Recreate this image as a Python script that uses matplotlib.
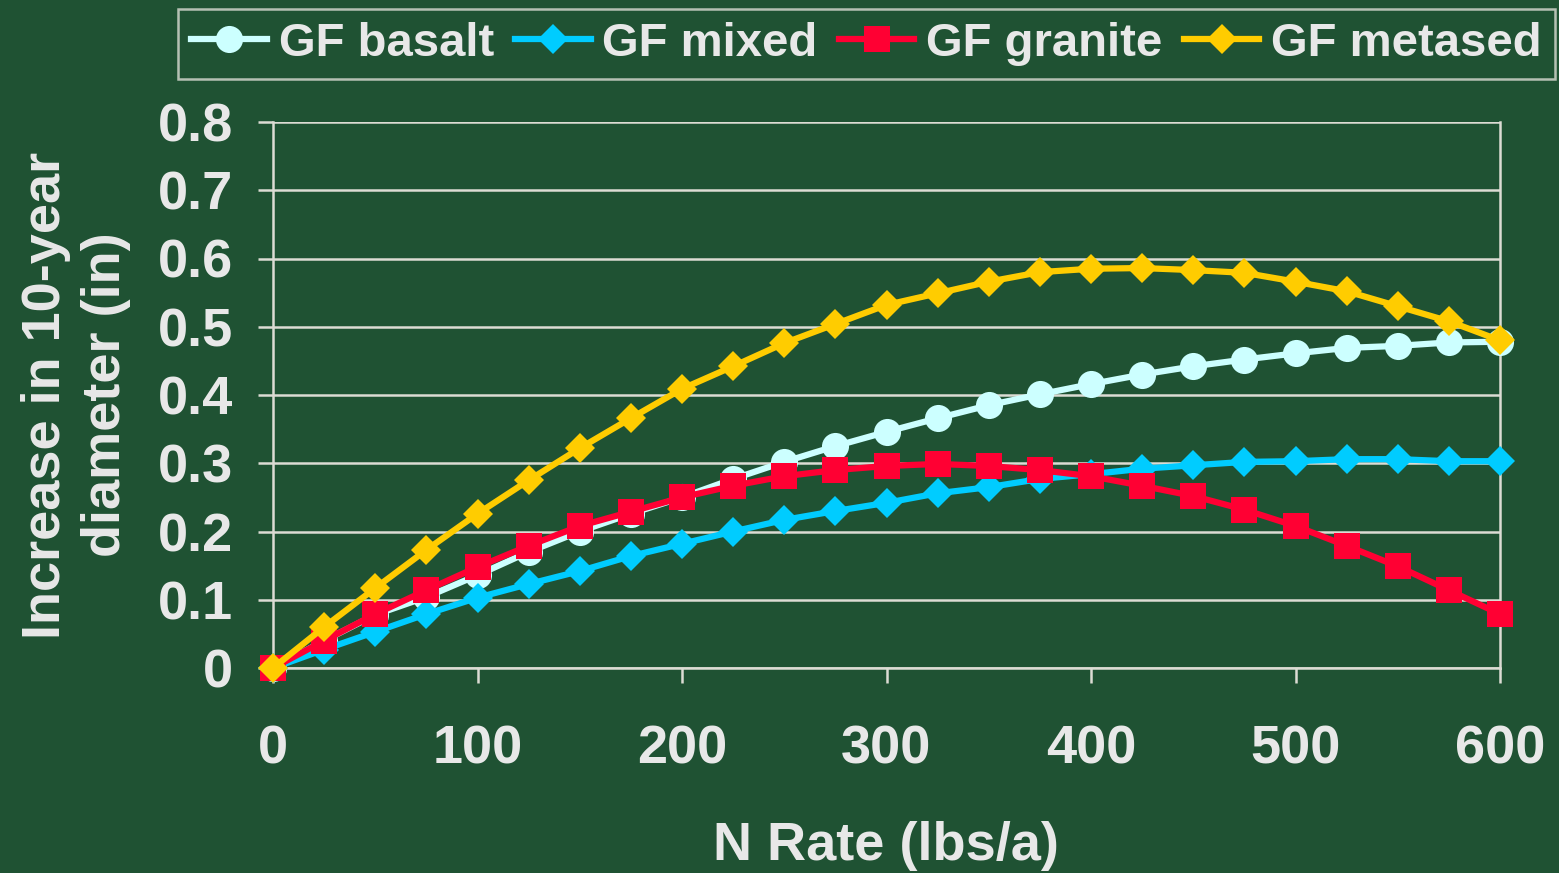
import matplotlib
matplotlib.use("Agg")
import matplotlib.pyplot as plt

plt.rcParams['font.family'] = ['Liberation Sans', 'DejaVu Sans']
plt.rcParams['font.weight'] = 'bold'

n_rate = [0, 25, 50, 75, 100, 125, 150, 175, 200, 225, 250, 275, 300,
          325, 350, 375, 400, 425, 450, 475, 500, 525, 550, 575, 600]

gf_basalt = [0.0, 0.04, 0.078, 0.104, 0.136, 0.17, 0.2, 0.226, 0.25, 0.277,
             0.302, 0.325, 0.346, 0.366, 0.385, 0.401, 0.416, 0.43, 0.442,
             0.452, 0.461, 0.469, 0.472, 0.477, 0.478]
gf_mixed = [0.0, 0.027, 0.053, 0.079, 0.103, 0.123, 0.142, 0.164, 0.182, 0.2,
            0.217, 0.23, 0.242, 0.256, 0.265, 0.277, 0.284, 0.292, 0.297,
            0.302, 0.303, 0.306, 0.306, 0.303, 0.303]
gf_granite = [0.0, 0.04, 0.079, 0.114, 0.148, 0.179, 0.208, 0.229, 0.25, 0.267,
              0.281, 0.29, 0.296, 0.299, 0.296, 0.29, 0.281, 0.267, 0.252,
              0.232, 0.208, 0.179, 0.149, 0.114, 0.079]
gf_metased = [0.0, 0.06, 0.117, 0.173, 0.226, 0.275, 0.322, 0.366, 0.409, 0.442,
              0.476, 0.504, 0.532, 0.549, 0.566, 0.58, 0.585, 0.586, 0.583,
              0.579, 0.566, 0.552, 0.53, 0.508, 0.48]

series_names = ['GF basalt', 'GF mixed', 'GF granite', 'GF metased']
x_ticks = [0, 100, 200, 300, 400, 500, 600]
y_ticks = [0, 0.1, 0.2, 0.3, 0.4, 0.5, 0.6, 0.7, 0.8]
y_tick_labels = ['0', '0.1', '0.2', '0.3', '0.4', '0.5', '0.6', '0.7', '0.8']

bg = '#1f5233'
txt = '#e8e8e8'
grid_c = '#dcdcd4'

fig = plt.figure(figsize=(15.59, 8.73), dpi=100, facecolor=bg)
ax = fig.add_axes([273/1559, 1 - 668/873, (1500-273)/1559, (668-122)/873])
ax.set_facecolor('none')

styles = [
    dict(color='#ccffff', marker='o', markersize=19.5),
    dict(color='#00ccff', marker='D', markersize=15),
    dict(color='#ff0033', marker='s', markersize=19),
    dict(color='#ffcc00', marker='D', markersize=15),
]
data = [gf_basalt, gf_mixed, gf_granite, gf_metased]
for i, (name, ys, st) in enumerate(zip(series_names, data, styles)):
    ax.plot(n_rate, ys, label=name, linewidth=4.5, markeredgewidth=0,
            clip_on=False, zorder=3 + i, **st)

ax.set_xlim(0, 600)
ax.set_ylim(0, 0.8)
ax.set_xticks(x_ticks)
ax.set_yticks(y_ticks)
ax.set_yticklabels(y_tick_labels)
ax.grid(axis='y', color=grid_c, linewidth=1.8, zorder=1)
ax.set_axisbelow(True)
ax.spines['top'].set_visible(False)
for s in ['left', 'right', 'bottom']:
    ax.spines[s].set_color(grid_c)
    ax.spines[s].set_linewidth(1.8)
ax.tick_params(axis='both', colors=grid_c, length=11, width=1.8,
               labelcolor=txt, labelsize=39)
ax.tick_params(axis='x', pad=30)
ax.tick_params(axis='y', pad=18)
for lab in ax.get_xticklabels() + ax.get_yticklabels():
    lab.set_fontweight('bold')

fig.text(886/1559, 1 - 846/873, 'N Rate (lbs/a)', ha='center', va='center',
         fontsize=39, fontweight='bold', color=txt)
fig.text(76/1559, 1 - 395/873, 'Increase in 10-year\ndiameter (in)',
         ha='center', va='center', rotation=90, fontsize=39,
         fontweight='bold', color=txt, linespacing=1.25)

leg = fig.legend(loc='center', bbox_to_anchor=(866.5/1559, 1 - 44/873),
                 ncol=4, frameon=True, fancybox=False, fontsize=34,
                 handlelength=1.6, handletextpad=0.25, columnspacing=0.45,
                 borderpad=0.28, borderaxespad=0)
leg.get_frame().set_facecolor('none')
leg.get_frame().set_edgecolor(grid_c)
leg.get_frame().set_linewidth(1.8)
for t in leg.get_texts():
    t.set_color(txt)
    t.set_fontweight('bold')

fig.savefig('out.png', dpi=100, facecolor=bg)
